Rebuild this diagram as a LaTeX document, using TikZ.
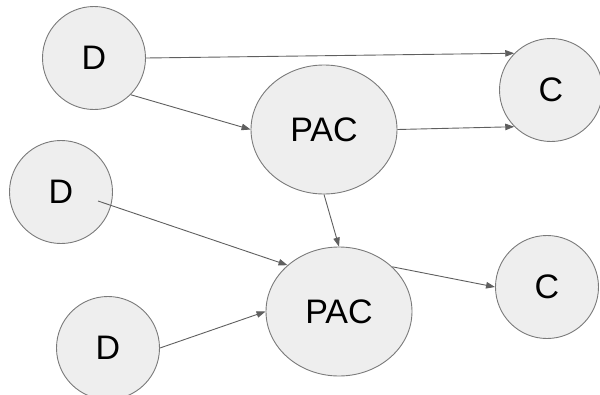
\documentclass[tikz,border=0pt]{standalone}
\usepackage{fontspec}
\setmainfont{Liberation Sans}
\usepackage{tikz}
\usetikzlibrary{shapes.geometric,arrows.meta}
\definecolor{fillgray}{HTML}{EEEEEE}
\definecolor{edge}{HTML}{7A7A7A}
\definecolor{wire}{HTML}{5F5F5F}
\tikzset{
  ball/.style={circle, draw=edge, fill=fillgray, line width=0.9pt, minimum size=103pt, inner sep=0pt, font=\fontsize{34}{38}\selectfont},
  blob/.style={ellipse, draw=edge, fill=fillgray, line width=0.9pt, minimum width=146pt, minimum height=129pt, inner sep=0pt, font=\fontsize{34}{38}\selectfont},
  link/.style={draw=wire, line width=0.9pt, -{Triangle[length=9pt,width=6.5pt]}},
}

\begin{document}
\begin{tikzpicture}[x=1pt,y=-1pt]
  \useasboundingbox (0,0) rectangle (600,394);
  \clip (0,0) rectangle (600,394);

  % sources
  \node[ball] (D1) at (94,58) {D};
  \node[ball] (D2) at (61,192) {D};
  \node[ball] (D3) at (108,348) {D};
  % middle
  \node[blob] (P1) at (324,129.5) {PAC};
  \node[blob] (P2) at (339,311.5) {PAC};
  % sinks
  \node[ball] (C1) at (551,90) {C};
  \node[ball] (C2) at (547,287) {C};

  \coordinate (d2tail) at ([shift={(37,9)}]D2.center);

  \draw[link] (D1.east) -- (C1.135);
  \draw[link] (D1.-45) -- (P1.west);
  \draw[link] (P1.east) -- (C1.225);
  \draw[link] (P1.south) -- (P2.north);
  \draw[link] (d2tail) -- (P2.138);
  \draw[link] (D3.east) -- (P2.west);
  \draw[link] (P2.40) -- (C2.west);
\end{tikzpicture}
\end{document}
